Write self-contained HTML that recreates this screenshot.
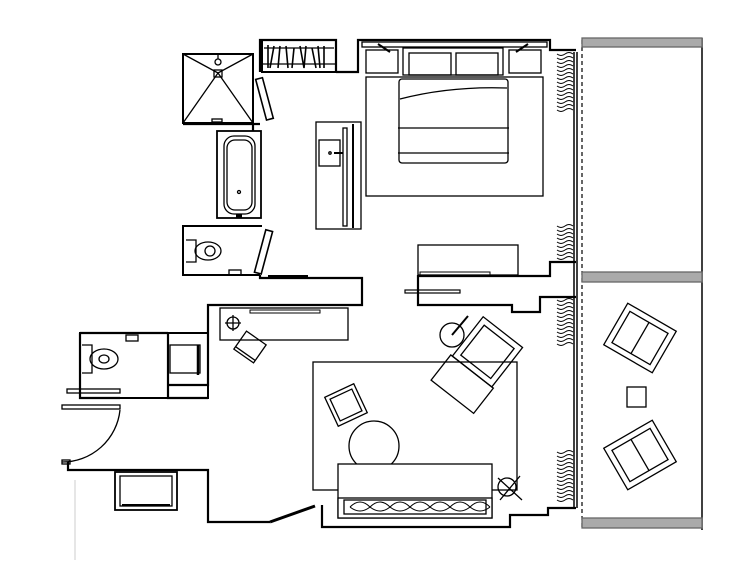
<!DOCTYPE html>
<html><head><meta charset="utf-8"><style>html,body{margin:0;padding:0;background:#fff}svg{display:block}</style></head>
<body>
<svg width="754" height="561" viewBox="0 0 754 561" xmlns="http://www.w3.org/2000/svg">
<g fill="none" stroke="#000" stroke-width="1.3">
<line x1="75" y1="480" x2="75" y2="560" stroke="#ccc" stroke-width="1"/>

<g stroke-width="2.2">
<polyline points="336,72 358,72 358,40 550,40 550,50 576,50"/>
<polyline points="260,72 260,40 336,40 336,72"/>
<polyline points="253,125 253,131"/>
<polyline points="183,124 260,124"/>
<polyline points="260,275 260,278 362,278 362,305 208,305 208,385 168,385"/>
<polyline points="80,333 80,398 120,398"/>
<polyline points="80,333 168,333"/>
<polyline points="168,333 168,398 208,398"/>
<polyline points="68,462 68,470 208,470 208,522 270,522"/>
<polyline points="322,505 322,527 510,527 510,515 548,515 548,508 576,508"/>
<polyline points="418,275 418,305 512,305 512,312 540,312 540,297 576,297"/>
<polyline points="418,276 550,276 550,262 576,262"/>
</g>

<rect x="183" y="54" width="70" height="69" stroke-width="2"/>
<polyline points="183,54 218,73 253,54"/>
<polyline points="183,123 218,73 253,123"/>
<rect x="214" y="70" width="8" height="7"/>
<circle cx="218" cy="62" r="3"/>
<line x1="218" y1="54" x2="218" y2="59"/>
<rect x="212" y="119" width="10" height="3"/>
<rect x="261" y="78" width="7" height="42" transform="rotate(-15 264 99)" stroke-width="1.6"/>

<rect x="262" y="40" width="74" height="32" stroke-width="2"/>
<line x1="262" y1="64" x2="336" y2="64"/>
<path d="M268,45 L268,68 M274,46 L270,68 M280,46 L278,68 M286,46 L288,68 M294,48 L292,68 M300,46 L304,68 M306,46 L304,68 M312,48 L316,68 M318,46 L320,68 M324,46 L324,68" stroke-width="1.6"/>
<line x1="264" y1="48" x2="334" y2="48"/>

<rect x="217" y="131" width="44" height="87" stroke-width="1.8"/>
<rect x="224" y="136" width="31" height="78" rx="10"/>
<rect x="227" y="140" width="25" height="70" rx="8"/>
<circle cx="239" cy="192" r="1.5"/>
<line x1="236" y1="216" x2="242" y2="216" stroke-width="3"/>

<polyline points="262,226 183,226 183,275 260,275" stroke-width="2"/>
<rect x="260" y="230" width="7" height="44" transform="rotate(15 264 252)" stroke-width="1.6"/>
<path d="M186,240 L196,240 L196,262 L186,262"/>
<ellipse cx="208" cy="251" rx="13" ry="9"/>
<ellipse cx="210" cy="251" rx="5" ry="5"/>
<rect x="229" y="270" width="12" height="5"/>
<line x1="268" y1="276" x2="308" y2="276" stroke-width="2"/>

<rect x="362" y="42" width="185" height="5"/>
<rect x="366" y="50" width="32" height="23"/>
<rect x="509" y="50" width="32" height="23"/>
<path d="M378,44 L390,52" stroke-width="2"/>
<path d="M528,44 L516,52" stroke-width="2"/>
<rect x="403" y="48" width="100" height="27"/>
<rect x="409" y="53" width="42" height="22"/>
<rect x="456" y="53" width="42" height="22"/>
<rect x="366" y="77" width="177" height="119"/>
<rect x="399" y="79" width="109" height="84" rx="3"/>
<path d="M400,99 Q450,86 507,88"/>
<line x1="398" y1="128" x2="509" y2="128"/>
<line x1="398" y1="153" x2="509" y2="153"/>

<rect x="316" y="122" width="45" height="107"/>
<rect x="319" y="140" width="21" height="26"/>
<circle cx="330" cy="153" r="1.2"/>
<line x1="334" y1="153" x2="343" y2="153" stroke-width="2"/>
<rect x="343" y="128" width="4" height="98"/>
<line x1="353" y1="124" x2="353" y2="228" stroke-width="2"/>

<rect x="418" y="245" width="100" height="30"/>
<rect x="420" y="272" width="70" height="3" stroke-width="1"/>
<rect x="405" y="290" width="55" height="3" stroke-width="1.2"/>

<g stroke-width="1">
<path d="M557,54 q4,3 8,0 q4,-3 8,0 M557,58 q4,3 8,0 q4,-3 8,0 M557,62 q4,3 8,0 q4,-3 8,0 M557,66 q4,3 8,0 q4,-3 8,0 M557,70 q4,3 8,0 q4,-3 8,0 M557,74 q4,3 8,0 q4,-3 8,0 M557,78 q4,3 8,0 q4,-3 8,0 M557,82 q4,3 8,0 q4,-3 8,0 M557,86 q4,3 8,0 q4,-3 8,0 M557,90 q4,3 8,0 q4,-3 8,0 M557,94 q4,3 8,0 q4,-3 8,0 M557,98 q4,3 8,0 q4,-3 8,0 M557,102 q4,3 8,0 q4,-3 8,0 M557,106 q4,3 8,0 q4,-3 8,0 M557,110 q4,3 8,0 q4,-3 8,0"/>
<path d="M557,226 q4,3 8,0 q4,-3 8,0 M557,230 q4,3 8,0 q4,-3 8,0 M557,234 q4,3 8,0 q4,-3 8,0 M557,238 q4,3 8,0 q4,-3 8,0 M557,242 q4,3 8,0 q4,-3 8,0 M557,246 q4,3 8,0 q4,-3 8,0 M557,250 q4,3 8,0 q4,-3 8,0 M557,254 q4,3 8,0 q4,-3 8,0 M557,258 q4,3 8,0 q4,-3 8,0"/>
<path d="M557,300 q4,3 8,0 q4,-3 8,0 M557,304 q4,3 8,0 q4,-3 8,0 M557,308 q4,3 8,0 q4,-3 8,0 M557,312 q4,3 8,0 q4,-3 8,0 M557,316 q4,3 8,0 q4,-3 8,0 M557,320 q4,3 8,0 q4,-3 8,0 M557,324 q4,3 8,0 q4,-3 8,0 M557,328 q4,3 8,0 q4,-3 8,0 M557,332 q4,3 8,0 q4,-3 8,0 M557,336 q4,3 8,0 q4,-3 8,0 M557,340 q4,3 8,0 q4,-3 8,0 M557,344 q4,3 8,0 q4,-3 8,0"/>
<path d="M557,452 q4,3 8,0 q4,-3 8,0 M557,456 q4,3 8,0 q4,-3 8,0 M557,460 q4,3 8,0 q4,-3 8,0 M557,464 q4,3 8,0 q4,-3 8,0 M557,468 q4,3 8,0 q4,-3 8,0 M557,472 q4,3 8,0 q4,-3 8,0 M557,476 q4,3 8,0 q4,-3 8,0 M557,480 q4,3 8,0 q4,-3 8,0 M557,484 q4,3 8,0 q4,-3 8,0 M557,488 q4,3 8,0 q4,-3 8,0 M557,492 q4,3 8,0 q4,-3 8,0 M557,496 q4,3 8,0 q4,-3 8,0 M557,500 q4,3 8,0 q4,-3 8,0"/>
</g>
<line x1="574" y1="52" x2="574" y2="508" stroke-width="1.5"/>
<line x1="577" y1="52" x2="577" y2="508" stroke-width="1.5"/>
<line x1="582" y1="40" x2="582" y2="530" stroke-dasharray="4,3" stroke-width="1.2"/>

<line x1="702" y1="38" x2="702" y2="530" stroke-width="1.5"/>
<rect x="582" y="38" width="120" height="9" fill="#aaa" stroke="#666"/>
<rect x="582" y="272" width="120" height="10" fill="#aaa" stroke="#666"/>
<rect x="582" y="518" width="120" height="10" fill="#aaa" stroke="#666"/>
<g transform="rotate(30 640 338)"><rect x="612" y="314" width="56" height="48"/><rect x="618" y="320" width="44" height="36"/><line x1="640" y1="320" x2="640" y2="356"/></g>
<g transform="rotate(-30 640 455)"><rect x="612" y="431" width="56" height="48"/><rect x="618" y="437" width="44" height="36"/><line x1="640" y1="437" x2="640" y2="473"/></g>
<rect x="627" y="387" width="19" height="20"/>

<rect x="220" y="308" width="128" height="32"/>
<rect x="250" y="310" width="70" height="3" stroke-width="1"/>
<circle cx="233" cy="323" r="6"/>
<path d="M225,323 H241 M233,315 V331"/>
<g transform="rotate(35 250 347)"><rect x="238" y="336" width="24" height="22"/><line x1="238" y1="355" x2="262" y2="355"/></g>

<rect x="80" y="333" width="128" height="65" stroke-width="2"/>
<line x1="168" y1="333" x2="168" y2="385"/>
<path d="M82,345 L92,345 L92,373 L82,373"/>
<ellipse cx="104" cy="359" rx="14" ry="10"/>
<ellipse cx="104" cy="359" rx="5" ry="4"/>
<rect x="126" y="335" width="12" height="6"/>
<rect x="170" y="345" width="30" height="28"/>
<line x1="198" y1="345" x2="198" y2="375" stroke-width="2.5"/>
<rect x="67" y="389" width="53" height="4"/>
<rect x="62" y="405" width="58" height="4"/>
<path d="M120,410 A58,58 0 0 1 62,462"/>
<rect x="62" y="460" width="8" height="4"/>

<rect x="115" y="472" width="62" height="38" stroke-width="1.8"/>
<rect x="120" y="476" width="52" height="30"/>
<line x1="122" y1="505" x2="170" y2="505" stroke-width="2"/>

<line x1="270" y1="522" x2="315" y2="506" stroke-width="3"/>

<rect x="313" y="362" width="204" height="128"/>
<g transform="rotate(-25 346 405)"><rect x="330" y="389" width="32" height="32"/><rect x="334" y="393" width="24" height="24"/></g>
<circle cx="374" cy="446" r="25"/>
<rect x="338" y="464" width="154" height="54" fill="#fff"/>
<rect x="338" y="498" width="154" height="20" fill="#fff"/>
<rect x="344" y="500" width="142" height="14"/>
<path d="M350,507 q10,-10 20,0 q10,-10 20,0 q10,-10 20,0 q10,-10 20,0 q10,-10 20,0 q10,-10 20,0 q10,-10 20,0 M350,507 q10,8 20,0 q10,8 20,0 q10,8 20,0 q10,8 20,0 q10,8 20,0 q10,8 20,0 q10,8 20,0" stroke-width="1"/>
<circle cx="507" cy="487" r="9"/>
<path d="M498,478 L522,500 M520,476 L500,500"/>
<circle cx="452" cy="335" r="12"/>
<line x1="452" y1="335" x2="468" y2="316" stroke-width="2"/>
<g transform="rotate(38 485 355)"><rect x="460" y="326" width="50" height="50"/><rect x="466" y="332" width="38" height="38"/><rect x="458" y="376" width="54" height="32"/></g>
</g>
</svg>
</body></html>
